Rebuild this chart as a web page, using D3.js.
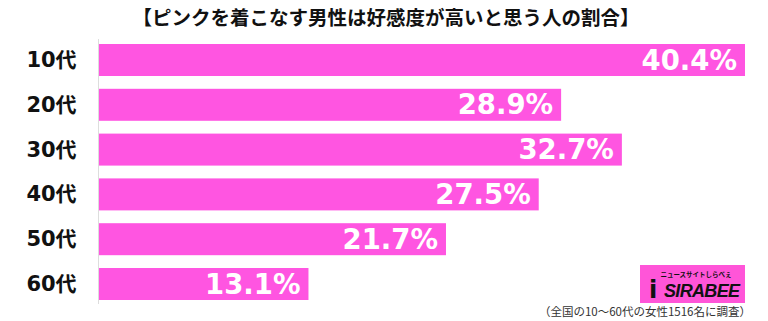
<!DOCTYPE html>
<html>
<head>
<meta charset="utf-8">
<script src="https://cdn.jsdelivr.net/npm/d3@7"></script>
<style>
  body { margin: 0; background: #fff; }
  svg { display: block; font-family: "Noto Sans CJK JP", "Noto Sans", sans-serif; }
</style>
</head>
<body>
<div id="chart"></div>
<script>
const categories = ["10代", "20代", "30代", "40代", "50代", "60代"];
const values = [40.4, 28.9, 32.7, 27.5, 21.7, 13.1];
const title = "【ピンクを着こなす男性は好感度が高いと思う人の割合】";
const note = "（全国の10〜60代の女性1516名に調査）";

const width = 768;
const height = 321;
const left = 99;

const svg = d3.select("#chart")
    .append("svg")
    .attr("width", width)
    .attr("height", height);

// 16px per percent
const x = d3.scaleLinear()
    .domain([0, 40.4])
    .range([left, 745]);

const y = d3.scaleBand()
    .domain(categories)
    .range([37.6, 306.4])
    .paddingInner(0.286)
    .paddingOuter(0.143);

svg.append("text")
    .attr("x", 386)
    .attr("y", 25)
    .attr("text-anchor", "middle")
    .attr("font-size", 19.5)
    .attr("font-weight", "bold")
    .attr("fill", "#111")
    .text(title);

// axis line
svg.append("line")
    .attr("x1", left - 0.5).attr("x2", left - 0.5)
    .attr("y1", 39).attr("y2", 304)
    .attr("stroke", "#ddd")
    .attr("stroke-width", 1);

svg.selectAll(".bar")
    .data(values)
    .enter()
    .append("rect")
    .attr("class", "bar")
    .attr("x", x(0))
    .attr("y", (d, i) => y(categories[i]))
    .attr("width", d => x(d) - x(0))
    .attr("height", y.bandwidth())
    .attr("fill", "#ff55e1");

svg.selectAll(".val")
    .data(values)
    .enter()
    .append("text")
    .attr("class", "val")
    .attr("x", d => x(d) - 8)
    .attr("y", (d, i) => y(categories[i]) + y.bandwidth() / 2 + 9.5)
    .attr("text-anchor", "end")
    .attr("font-family", "'DejaVu Sans', sans-serif")
    .attr("font-size", 27.5)
    .attr("font-weight", "bold")
    .attr("fill", "#fff")
    .text(d => d.toFixed(1) + "%");

svg.selectAll(".cat")
    .data(categories)
    .enter()
    .append("text")
    .attr("class", "cat")
    .attr("x", 51.5)
    .attr("y", d => y(d) + y.bandwidth() / 2 + 7)
    .attr("text-anchor", "middle")
    .attr("font-family", "'DejaVu Sans', 'Noto Sans CJK JP', sans-serif")
    .attr("font-size", 21)
    .attr("font-weight", "bold")
    .attr("fill", "#111")
    .text(d => d);

// logo
const logo = svg.append("g").attr("transform", "translate(640,265)");
logo.append("rect")
    .attr("width", 105).attr("height", 38)
    .attr("fill", "#ff55d8");
logo.append("text")
    .attr("x", 56).attr("y", 12)
    .attr("text-anchor", "middle")
    .attr("font-size", 6.5)
    .attr("font-weight", "bold")
    .attr("fill", "#111")
    .text("ニュースサイトしらべぇ");
logo.append("text")
    .attr("x", 9).attr("y", 33)
    .attr("font-family", "'DejaVu Sans', sans-serif")
    .attr("font-size", 24)
    .attr("font-weight", "bold")
    .attr("fill", "#111")
    .text("i");
logo.append("text")
    .attr("x", 24).attr("y", 32)
    .attr("font-family", "'Liberation Sans', sans-serif")
    .attr("font-size", 18)
    .attr("font-weight", "bold")
    .attr("font-style", "italic")
    .attr("fill", "#111")
    .attr("textLength", 76)
    .text("SIRABEE");

svg.append("text")
    .attr("x", 751)
    .attr("y", 316)
    .attr("text-anchor", "end")
    .attr("font-size", 11.5)
    .attr("fill", "#333")
    .text(note);
</script>
</body>
</html>
